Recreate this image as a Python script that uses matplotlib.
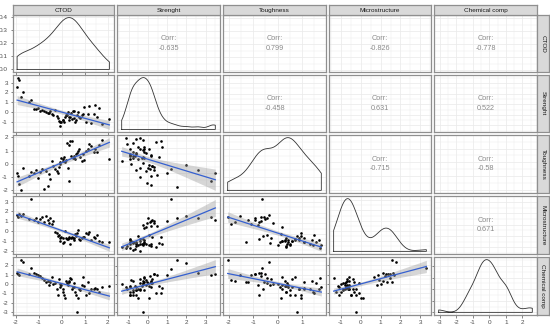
import numpy as np
import matplotlib
matplotlib.use("Agg")
import matplotlib.pyplot as plt
from matplotlib.ticker import MultipleLocator, FormatStrFormatter

plt.rcParams['font.family'] = ['Liberation Sans', 'DejaVu Sans']

var_names = ["CTOD", "Strenght", "Toughness", "Microstructure", "Chemical comp"]

ctod = [-1.95, -1.9, -1.86, -1.76, -1.69, -1.43, -1.33, -1.21, -1.12, -1.05,
        -0.96, -0.88, -0.8, -0.71, -0.62, -0.55, -0.52, -0.45, -0.38, -0.3,
        -0.22, -0.16, -0.13, -0.1, -0.06, -0.02, 0.03, 0.07, 0.11, 0.15,
        0.19, 0.22, 0.26, 0.3, 0.33, 0.37, 0.41, 0.44, 0.48, 0.52,
        0.55, 0.58, 0.62, 0.66, 0.7, 0.75, 0.8, 0.86, 0.93, 0.98,
        1.05, 1.12, 1.2, 1.28, 1.38, 1.46, 1.53, 1.6, 1.75, 2.07]
strength = [2.6, 3.5, 3.3, 1.5, 2.0, 1.0, 1.2, 0.3, 0.3, 0.45,
            0.1, 0.23, 0.13, 0.0, -0.05, -0.1, 0.15, -0.2, -0.27, 0.23,
            -0.4, -0.6, -0.87, -0.93, -1.37, -0.93, -0.8, -0.77, -0.93, -0.5,
            -0.27, -0.27, 0.07, -0.8, -0.43, -0.43, -0.1, -0.65, 0.13, 0.13,
            -0.6, -0.93, -0.77, -0.27, 0.07, -0.5, -0.6, -0.3, -0.2, 0.57,
            -0.93, -0.2, 0.67, -1.1, -0.2, 0.73, -0.43, 0.4, -1.17, -0.7]
toughness = [-0.7, -0.93, -1.55, -2.05, -0.35, -0.93, -0.65, -0.75, -0.5, -1.1,
             -0.68, -0.45, -1.93, -0.55, -1.75, -0.8, -1.2, 0.2, -0.2, -0.43,
             -0.6, -0.75, -0.25, 0.1, 0.0, 0.45, 0.2, 0.33, 0.5, 0.15,
             0.3, 1.58, -0.3, 1.4, -1.3, 1.75, 0.6, 1.7, 0.45, 0.4,
             0.58, 0.35, 0.7, 0.8, 0.95, 1.08, 0.5, 0.2, 0.7, 0.3,
             0.95, 1.08, 1.5, 1.33, 0.9, 1.08, 0.9, 1.45, 1.8, 0.33]
microstructure = [1.62, 1.45, 1.69, 1.55, 1.76, 1.28, 3.3, 1.11, 1.35, 0.88,
                  1.2, 1.45, 0.9, 1.55, 1.11, 0.8, 1.3, 0.68, 1.0, -0.07,
                  -0.24, -0.5, -0.4, -0.74, -1.0, -0.57, -0.65, -1.25, -1.08, 0.0,
                  -0.68, -0.8, -0.81, -0.57, -0.74, -1.36, -0.68, -0.6, -0.74, -0.9,
                  -0.68, -0.34, -0.5, -0.24, 0.1, -0.8, -0.91, -0.7, -0.6, -0.6,
                  -0.24, -0.34, -0.07, -0.9, -0.57, -0.74, -0.4, -1.0, -1.08, -1.15]
chemical = [1.2, 1.1, 1.0, 2.6, 2.33, 1.05, 1.67, 1.17, 1.1, 1.0,
            0.9, 0.6, 0.4, 0.17, 0.3, -0.1, 0.2, 0.77, 0.0, 0.1,
            -0.5, -1.17, 0.5, -0.3, 0.0, -0.17, -0.57, -0.83, -1.17, -1.5,
            0.33, 0.1, -0.17, 0.33, 0.17, 0.6, 0.5, -0.6, -0.3, 0.1,
            -0.33, -0.83, -1.17, -3.05, -1.5, -0.5, -0.67, -0.17, 0.7, -0.2,
            -1.17, 0.23, -1.0, -0.5, -0.57, -0.43, -0.6, -0.9, -0.3, -0.23]

# upper-triangle correlation labels (row-major)
corr_values = ["-0.635", "0.799", "-0.826", "-0.778",
               "-0.458", "0.631", "0.522",
               "-0.715", "-0.58",
               "0.671"]

data = [np.array(v, float) for v in (ctod, strength, toughness, microstructure, chemical)]
nv = len(data)

W, H = 550, 327
fig = plt.figure(figsize=(W / 100, H / 100), dpi=100)
fig.patch.set_facecolor("white")

col_x = [(12.5, 114), (117, 220), (223, 326), (329, 431), (434, 537)]
row_y = [(15, 72), (75, 132), (135, 193), (196, 254), (257, 315)]

BORDER = "#8F8F8F"
GRID = "#EBEBEB"
TXT = "#4D4D4D"
FS = 4.6


def px_axes(x0, x1, y0, y1):
    return fig.add_axes([x0 / W, 1 - y1 / H, (x1 - x0) / W, (y1 - y0) / H])


def expand(lo, hi, f=0.05):
    d = (hi - lo) * f
    return lo - d, hi + d


def kde(v, xs):
    n = len(v)
    sd = v.std(ddof=1)
    iqr = np.subtract(*np.percentile(v, [75, 25]))
    bw = 0.9 * min(sd, iqr / 1.34) * n ** -0.2
    z = (xs[:, None] - v[None, :]) / bw
    return np.exp(-0.5 * z ** 2).sum(1) / (n * bw * np.sqrt(2 * np.pi))


def style(ax, major, minor):
    ax.set_facecolor("white")
    ax.xaxis.set_major_locator(MultipleLocator(major[0]))
    ax.xaxis.set_minor_locator(MultipleLocator(minor[0]))
    ax.yaxis.set_major_locator(MultipleLocator(major[1]))
    ax.yaxis.set_minor_locator(MultipleLocator(minor[1]))
    ax.grid(which="major", color=GRID, lw=0.55, zorder=0)
    ax.grid(which="minor", color=GRID, lw=0.3, zorder=0)
    ax.set_axisbelow(True)
    for s in ax.spines.values():
        s.set_color(BORDER)
        s.set_linewidth(0.9)
    ax.tick_params(which="both", length=0, labelbottom=False, labelleft=False,
                   colors=TXT, labelsize=FS, pad=1.5)
    ax.tick_params(which="major", color="#555555", width=0.5)


xlims = [expand(d.min(), d.max()) for d in data]

for i in range(nv):
    for j in range(nv):
        x0, x1 = col_x[j]
        y0, y1 = row_y[i]
        ax = px_axes(x0, x1, y0, y1)
        xv = data[j]
        yv = data[i]
        if i == j:
            xs = np.linspace(xv.min(), xv.max(), 256)
            ds = kde(xv, xs)
            px = np.concatenate([[xs[0]], xs, [xs[-1], xs[0]]])
            py = np.concatenate([[0], ds, [0, 0]])
            ax.plot(px, py, color="#333333", lw=0.6, zorder=3)
            ax.set_xlim(*xlims[j])
            ax.set_ylim(*expand(0, ds.max()))
            style(ax, (1, 0.1), (0.5, 0.05))
        elif i > j:
            b1, b0 = np.polyfit(xv, yv, 1)
            n = len(xv)
            res = yv - (b0 + b1 * xv)
            s = np.sqrt((res ** 2).sum() / (n - 2))
            xm = xv.mean()
            sxx = ((xv - xm) ** 2).sum()
            xs = np.linspace(xv.min(), xv.max(), 80)
            fit = b0 + b1 * xs
            se = s * np.sqrt(1 / n + (xs - xm) ** 2 / sxx)
            lo, hi = fit - 2.0 * se, fit + 2.0 * se
            ax.scatter(xv, yv, s=3.6, color="black", linewidths=0, zorder=3)
            ax.fill_between(xs, lo, hi, color="#999999", alpha=0.4, lw=0, zorder=4)
            ax.plot(xs, fit, color="#3560D0", lw=0.9, zorder=5)
            ax.set_xlim(*xlims[j])
            ax.set_ylim(*expand(min(yv.min(), lo.min()), max(yv.max(), hi.max())))
            style(ax, (1, 1), (0.5, 0.5))
        else:
            k = sum(nv - 1 - r for r in range(i)) + (j - i - 1)
            ax.set_xlim(*xlims[j])
            ax.set_ylim(*xlims[i])
            ax.text(0.5, 0.5, "Corr:\n" + corr_values[k], transform=ax.transAxes,
                    ha="center", va="center", fontsize=FS + 0.6, color="#8A8A8A",
                    linespacing=1.5)
            style(ax, (1, 1), (0.5, 0.5))
        if j == 0:
            ax.tick_params(which="major", left=True, labelleft=True, length=1.8)
            ax.yaxis.set_major_formatter(FormatStrFormatter("%.1f" if i == 0 else "%g"))
        if i == nv - 1:
            ax.tick_params(which="major", bottom=True, labelbottom=True, length=1.8)
            ax.xaxis.set_major_formatter(FormatStrFormatter("%g"))

# strips
for j in range(nv):
    x0, x1 = col_x[j]
    sa = px_axes(x0, x1, 5, 15)
    sa.set_facecolor("#D9D9D9")
    sa.set_xticks([]); sa.set_yticks([])
    for s in sa.spines.values():
        s.set_color(BORDER); s.set_linewidth(0.9)
    sa.text(0.5, 0.45, var_names[j], ha="center", va="center", fontsize=FS,
            color="#1A1A1A", transform=sa.transAxes)

for i in range(nv):
    y0, y1 = row_y[i]
    sa = px_axes(537, 549, y0, y1)
    sa.set_facecolor("#D9D9D9")
    sa.set_xticks([]); sa.set_yticks([])
    for s in sa.spines.values():
        s.set_color(BORDER); s.set_linewidth(0.9)
    sa.text(0.5, 0.5, var_names[i], ha="center", va="center", fontsize=FS,
            color="#1A1A1A", rotation=-90, transform=sa.transAxes)

fig.savefig("out.png", dpi=100, facecolor="white")
